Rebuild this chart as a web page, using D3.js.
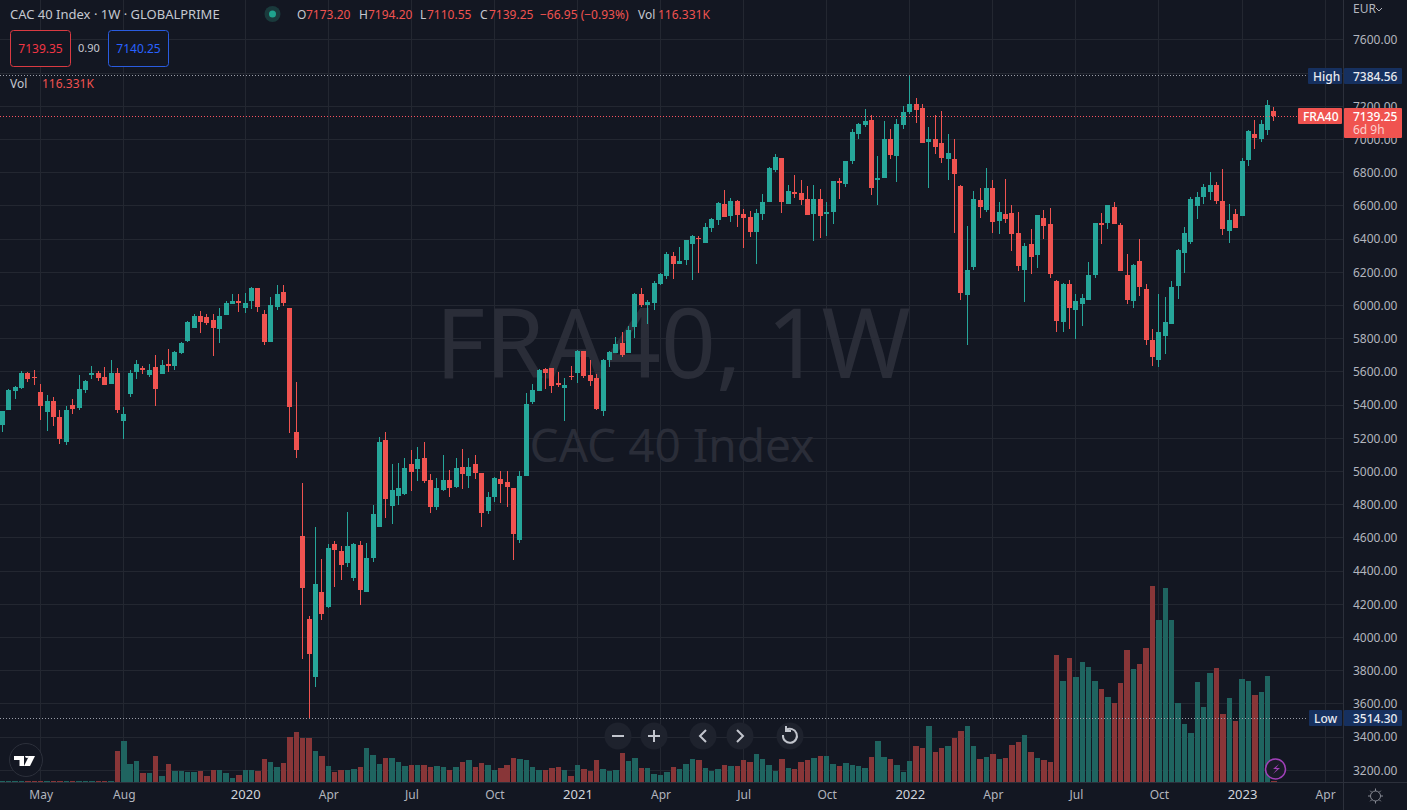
<!DOCTYPE html>
<html><head><meta charset="utf-8">
<script src="https://cdn.jsdelivr.net/npm/d3@7"></script>
<style>
html,body{margin:0;padding:0;background:#131722;overflow:hidden}
svg{display:block}
text{font-family:"Noto Sans",sans-serif}
</style></head><body><svg id="c" width="1407" height="810"></svg>
<script>
const opens=[5278,5368,5482,5506,5596,5572,5476,5356,5422,5326,5176,5398,5380,5488,5584,5596,5572,5530,5596,5302,5464,5602,5626,5584,5632,5590,5650,5638,5716,5788,5866,5938,5932,5914,5860,5944,6010,6028,5986,6028,6106,5950,5782,5992,6082,5986,5236,
4611,4113,3765,4275,4185,4563,4521,4449,4359,4557,4275,4479,4665,5187,4791,4851,4863,5043,5013,5079,4947,4785,4887,4947,4905,5025,4971,5043,4989,4761,4845,4953,4935,4899,4587,4971,5421,5487,5619,
5623,5533,5503,5575,5593,5725,5581,5563,5365,5671,5713,5773,5713,5869,6067,6001,6013,6127,6175,6301,6253,6277,6373,6409,6379,6469,6517,6613,6541,6631,6553,6535,6445,6553,6625,6817,6889,6613,6685,6679,6643,6553,6643,
6549,6561,6753,6729,6873,7035,7089,7119,6759,6771,7005,6903,7089,7167,7215,7191,6987,7005,6981,6885,6885,6717,6063,6231,6633,6573,6705,6507,6549,6555,6435,6213,6369,6303,
6530,6488,6146,5900,6128,5972,6008,6032,6182,6494,6494,6596,6482,6182,6026,6266,6098,5792,5672,5816,5888,6116,6314,6380,6602,6656,6686,6728,6632,6446,6554,6542,6878,7034,7004,7058,7173.20];
const highs=[5362,5494,5518,5608,5602,5614,5530,5458,5446,5368,5392,5434,5584,5554,5638,5608,5632,5674,5626,5386,5614,5674,5638,5650,5704,5674,5740,5728,5782,5908,5950,5968,5950,5950,5986,6028,6070,6070,6076,6112,6106,5974,6052,6124,6124,5986,5542,
4929,4131,4665,4473,4563,4581,4551,4755,4569,4581,4569,4797,5205,5235,5043,5049,5079,5127,5145,5175,4983,4959,5097,5007,5079,5133,5079,5097,4989,4875,4965,5001,5001,4899,5001,5475,5529,5619,5625,
5623,5599,5563,5635,5731,5725,5671,5587,5677,5725,5809,5839,5875,6073,6103,6031,6145,6193,6325,6325,6355,6397,6427,6421,6499,6529,6625,6697,6649,6637,6583,6571,6583,6673,6835,6913,6889,6727,6787,6757,6721,6727,6703,
6621,6753,6771,6873,7065,7101,7185,7149,6903,7113,7065,7125,7203,7384.56,7251,7215,7077,7149,7173,7035,7005,6723,6477,6687,6705,6831,6759,6621,6765,6603,6561,6375,6459,6543,
6578,6590,6152,6134,6152,6068,6068,6260,6494,6560,6608,6626,6500,6308,6248,6398,6128,5858,6068,6050,6146,6338,6470,6656,6686,6734,6806,6746,6824,6614,6584,6890,7058,7118,7118,7238,7194.20];
const lows=[5236,5368,5434,5500,5542,5524,5308,5242,5272,5164,5158,5344,5368,5470,5560,5548,5524,5530,5350,5194,5446,5560,5590,5572,5392,5590,5602,5614,5710,5782,5866,5836,5884,5698,5776,5944,6010,5962,5956,5980,5962,5764,5782,5974,5998,5230,5080,
3873,3514.30,3699,4107,4179,4305,4347,4425,4341,4197,4275,4455,4665,4719,4683,4797,4857,4881,4941,4929,4749,4767,4881,4845,4899,4893,4899,4953,4665,4743,4815,4809,4785,4467,4569,4971,5409,5487,5499,
5473,5509,5305,5551,5533,5563,5515,5371,5335,5629,5713,5689,5713,5803,5989,5887,5971,6121,6157,6157,6247,6241,6151,6193,6379,6445,6487,6535,6505,6475,6349,6415,6247,6517,6625,6805,6559,6613,6649,6607,6547,6391,6409,
6417,6489,6639,6711,6855,7005,7077,6663,6603,6771,6885,6741,7065,7155,7101,6981,6705,6915,6861,6759,6435,6033,5763,6213,6525,6561,6435,6429,6495,6327,6207,6021,6189,6225,
6398,6164,5840,5840,5858,5798,5876,6032,6164,6368,6458,6488,6206,6008,5984,6056,5762,5636,5630,5708,5888,6038,6194,6368,6524,6614,6638,6614,6422,6374,6464,6542,6842,6944,6986,7028,7110.55];
const closes=[5362,5488,5512,5596,5560,5566,5392,5422,5326,5194,5368,5374,5494,5548,5596,5566,5524,5596,5368,5344,5596,5650,5614,5614,5500,5644,5638,5722,5776,5902,5938,5902,5896,5866,5938,6016,6028,6016,6016,6106,5992,5782,6004,6070,6016,5386,5128,
4299,3903,4323,4143,4539,4527,4437,4551,4563,4287,4479,4743,5175,4833,4887,4899,5019,4995,5073,4941,4785,4899,4947,4899,5019,4983,5025,4989,4749,4845,4959,4923,4905,4623,4971,5409,5493,5613,5595,
5515,5521,5521,5569,5725,5575,5545,5377,5671,5719,5767,5701,5851,6067,6001,6019,6133,6187,6313,6247,6271,6397,6421,6403,6475,6523,6619,6535,6631,6547,6529,6445,6559,6625,6829,6895,6625,6691,6673,6637,6547,6643,6541,
6561,6747,6735,6873,7047,7095,7113,6705,6771,7005,6909,7095,7167,7215,7179,6981,7005,6957,6891,6921,6795,6075,6213,6639,6591,6705,6501,6561,6519,6429,6237,6357,6291,6543,
6476,6188,5906,6128,5984,6026,6044,6182,6494,6482,6608,6488,6206,6032,6242,6110,5792,5690,5840,5900,6110,6332,6434,6644,6656,6716,6728,6632,6458,6518,6464,6872,7052,7010,7094,7208,7139.25];
// weekly volume, thousands
const volumes=[120,120,120,120,120,120,120,120,120,120,120,120,120,120,120,120,120,120,
3100,4100,1800,2100,900,900,2600,600,1800,1100,1100,1000,1000,1100,600,1200,1200,900,400,700,1200,1200,1100,2300,2000,1500,1900,4500,5000,4400,4400,3100,2600,1600,1000,1200,1200,1300,1500,3400,2700,1800,2400,2400,2000,1600,1700,1700,1700,1500,1600,1500,1200,1500,2000,2200,1500,1900,1700,1200,1400,1700,2400,2300,2200,1500,1200,1200,1400,1500,1200,600,1700,1300,1100,2200,1300,1100,1200,2900,2100,2400,1400,1400,800,700,1000,1500,1300,1800,2300,2200,1400,1100,1300,1700,1600,1600,2200,2000,2800,2300,1700,1100,2300,1400,1300,2000,2200,2400,2600,2600,1800,1600,1900,1700,1600,1400,2500,4100,2500,2300,1700,1000,2100,3600,3400,5600,3000,3400,3600,4400,5100,5600,3600,2300,2500,2800,2300,2400,3700,4000,4700,3000,2400,2200,2000,
12700,10100,12400,10500,12000,11500,10100,9300,8500,7900,9900,13200,11300,11800,13400,19600,16200,19400,16200,7900,5800,4900,10000,7500,10900,11400,6800,8400,6100,10300,10100,8700,9000,10600,116.331];
const priceTicks=[7600,7200,7000,6800,6600,6400,6200,6000,5800,5600,5400,5200,5000,4800,4600,4400,4200,4000,3800,3600,3400,3200];
const gridPrices=[7600,7400,7200,7000,6800,6600,6400,6200,6000,5800,5600,5400,5200,5000,4800,4600,4400,4200,4000,3800,3600,3400,3200];
const timeTickBars=[6,19,38,51,64,77,90,103,116,129,142,155,168,181,194,207];
const timeTickLabels=["May","Aug","2020","Apr","Jul","Oct","2021","Apr","Jul","Oct","2022","Apr","Jul","Oct","2023","Apr"];
const title="CAC 40 Index · 1W · GLOBALPRIME";
const bid="7139.35", spread="0.90", ask="7140.25";
const seriesHigh=7384.56, seriesLow=3514.30, lastClose=7139.25;

const UP="#26a69a",DOWN="#f05350",GRID="#232731",BORDER="#2c303b",TXT="#b2b5be",NAVY="#16305f";
const svg=d3.select("#c");
const x=d3.scaleLinear().domain([0,207]).range([2.4,1325.1]);
const y=d3.scaleLinear().domain([3200,7600]).range([770.3,39.9]);
const vy=d3.scaleLinear().domain([0,19600]).range([782,586]);
const isUp=i=>closes[i]>=opens[i];
const snap=v=>Math.round(v-.5)+.5;

// grid
const grid=svg.append("g").attr("shape-rendering","crispEdges").attr("stroke",GRID);
gridPrices.forEach(p=>grid.append("line").attr("x1",0).attr("x2",1343).attr("y1",snap(y(p))).attr("y2",snap(y(p))));
timeTickBars.forEach(b=>grid.append("line").attr("x1",snap(x(b))).attr("x2",snap(x(b))).attr("y1",0).attr("y2",782));

// watermark
svg.append("text").attr("x",673).attr("y",378).attr("text-anchor","middle").attr("font-size",96).attr("fill","#2a2d38").text("FRA40, 1W");
svg.append("text").attr("x",672).attr("y",462).attr("text-anchor","middle").attr("font-size",46).attr("fill","#2a2d38").text("CAC 40 Index");

// volume
svg.append("g").attr("shape-rendering","crispEdges").selectAll("rect").data(volumes).join("rect")
 .attr("x",(d,i)=>Math.round(x(i)-2.7)).attr("width",(d,i)=>Math.round(x(i)+2.7)-Math.round(x(i)-2.7))
 .attr("y",d=>vy(d)).attr("height",d=>Math.max(1,782-vy(d)))
 .attr("fill",(d,i)=>isUp(i)?"#1f6460":"#883638");

// candles
const idx=d3.range(opens.length);
const cg=svg.append("g").attr("shape-rendering","crispEdges");
cg.selectAll("line").data(idx).join("line")
 .attr("x1",i=>snap(x(i))).attr("x2",i=>snap(x(i))).attr("y1",i=>y(highs[i])).attr("y2",i=>y(lows[i]))
 .attr("stroke",i=>isUp(i)?UP:DOWN);
cg.selectAll("rect").data(idx).join("rect")
 .attr("x",i=>snap(x(i))-2.5).attr("width",5)
 .attr("y",i=>y(Math.max(opens[i],closes[i])))
 .attr("height",i=>Math.max(1,Math.abs(y(opens[i])-y(closes[i]))))
 .attr("fill",i=>isUp(i)?UP:DOWN);

// dotted marker lines
const dotted=(v,x2,c)=>svg.append("line").attr("x1",0).attr("x2",x2).attr("y1",snap(y(v))).attr("y2",snap(y(v))).attr("stroke",c).attr("stroke-dasharray","1,2").attr("shape-rendering","crispEdges");
dotted(seriesHigh,1308,"#9a9da8");
dotted(seriesLow,1308,"#9a9da8");
dotted(lastClose,1298,"#f7525f");

// axes
const yAxis=svg.append("g").attr("transform","translate(1343,0)").call(d3.axisRight(y).tickValues(priceTicks).tickFormat(d3.format(".2f")).tickSize(0).tickPadding(10));
const xAxis=svg.append("g").attr("transform","translate(0,782)").call(d3.axisBottom(x).tickValues(timeTickBars).tickFormat((d,i)=>timeTickLabels[i]).tickSize(0).tickPadding(8));
[yAxis,xAxis].forEach(a=>{a.select(".domain").remove();a.selectAll("text").attr("fill",TXT).attr("font-size",12).style("font-family",'"Noto Sans",sans-serif');});
xAxis.selectAll("text").attr("font-size",(d,i)=>/^20/.test(timeTickLabels[i])?13:12).attr("fill",(d,i)=>/^20/.test(timeTickLabels[i])?"#d1d4dc":TXT);
svg.append("g").attr("shape-rendering","crispEdges").attr("stroke",BORDER).call(g=>{
 g.append("line").attr("x1",1343.5).attr("x2",1343.5).attr("y1",0).attr("y2",810);
 g.append("line").attr("x1",0).attr("x2",1407).attr("y1",782.5).attr("y2",782.5);
});
svg.append("text").attr("x",1353).attr("y",13).attr("font-size",12).attr("fill",TXT).text("EUR");
svg.append("path").attr("d","M1376 8l3 3 3-3").attr("fill","none").attr("stroke",TXT);

// price tags
function tag(x0,w,yc,h,fill,txt,color,anchorX,weight){
 svg.append("rect").attr("x",x0).attr("y",yc-h/2).attr("width",w).attr("height",h).attr("rx",1).attr("fill",fill);
 svg.append("text").attr("x",anchorX).attr("y",yc+4.5).attr("font-size",12).attr("font-weight",weight||500).attr("fill",color).text(txt);
}
tag(1308,34,76,16,NAVY,"High","#e8eaf0",1313);
tag(1344,58,76,16,NAVY,d3.format(".2f")(seriesHigh),"#e8eaf0",1353);
tag(1309,33,718,16,NAVY,"Low","#e8eaf0",1314);
tag(1344,58,718,16,NAVY,d3.format(".2f")(seriesLow),"#e8eaf0",1353);
tag(1298,44,116,16,"#f05350","FRA40","#fff",1303);
svg.append("rect").attr("x",1344).attr("y",108).attr("width",58).attr("height",30).attr("rx",1).attr("fill","#f05350");
svg.append("text").attr("x",1353).attr("y",120.5).attr("font-size",12).attr("font-weight",500).attr("fill","#fff").text(d3.format(".2f")(lastClose));
svg.append("text").attr("x",1353).attr("y",134).attr("font-size",12).attr("fill","#fbd0cf").text("6d 9h");

// legend
const L=(xp,yp,t,c,fs)=>svg.append("text").attr("x",xp).attr("y",yp).attr("font-size",fs||12).attr("fill",c).text(t);
L(10,19,title,"#c5c8d0",13);
svg.append("circle").attr("cx",272.5).attr("cy",14).attr("r",8).attr("fill","#1a3a3c");
svg.append("circle").attr("cx",272.5).attr("cy",14).attr("r",3.5).attr("fill","#1fa38e");
const R="#f05350",W="#c5c8d0";
L(297,19,"O",W);L(306,19,d3.format(".2f")(opens[199]),R);
L(359,19,"H",W);L(368,19,d3.format(".2f")(highs[199]),R);
L(420,19,"L",W);L(427,19,d3.format(".2f")(lows[199]),R);
L(480,19,"C",W);L(489,19,d3.format(".2f")(closes[199]),R);
L(540,19,"−66.95 (−0.93%)",R);
L(638,19,"Vol",W);L(658,19,"116.331K",R);
svg.append("rect").attr("x",10.5).attr("y",30.5).attr("width",60).attr("height",36).attr("rx",3).attr("fill","#131722").attr("stroke","#d93a42");
svg.append("rect").attr("x",108.5).attr("y",30.5).attr("width",60).attr("height",36).attr("rx",3).attr("fill","#131722").attr("stroke","#2a5ce0");
svg.append("text").attr("x",40.5).attr("y",53).attr("text-anchor","middle").attr("font-size",12).attr("fill","#f23645").text(bid);
svg.append("text").attr("x",89).attr("y",52).attr("text-anchor","middle").attr("font-size",11).attr("fill",W).text(spread);
svg.append("text").attr("x",138.5).attr("y",53).attr("text-anchor","middle").attr("font-size",12).attr("fill","#2962ff").text(ask);
L(10,88,"Vol",W);L(42,88,"116.331K",R);

// nav buttons
const nav=svg.append("g");
[618,654,703,740,790].forEach(c=>nav.append("circle").attr("cx",c).attr("cy",736).attr("r",13.5).attr("fill","#1e222d"));
const icon=d=>nav.append("path").attr("d",d).attr("fill","none").attr("stroke","#c2c5cd").attr("stroke-width",2);
icon("M612 736h12");icon("M648 736h12M654 730v12");icon("M706 730l-6 6 6 6");icon("M737 730l6 6-6 6");
icon("M786 730a7 7 0 1 1-3 5M786 726v5h5");

// TV logo
svg.append("circle").attr("cx",26).attr("cy",760).attr("r",16.5).attr("fill","#131722").attr("stroke","#2c303b");
svg.append("path").attr("fill","#fff").attr("d","M14 756h10v10h-4.5v-6H14zM29 756h6l-5 10h-6zM25 756a2 2 0 1 0 4 0z");

// lightning
svg.append("circle").attr("cx",1275.5).attr("cy",769).attr("r",10).attr("fill","#1a1b28").attr("stroke","#a040b8").attr("stroke-width",1.5);
svg.append("path").attr("d","M1279 764l-6 5h4l-4 5 7-6h-4z").attr("fill","#a040b8");

// sun
const sun=svg.append("g").attr("stroke","#868993").attr("fill","none");
sun.append("circle").attr("cx",1375.5).attr("cy",796).attr("r",5);
d3.range(8).forEach(k=>{const a=k*Math.PI/4;sun.append("line").attr("x1",1375.5+5*Math.cos(a)).attr("y1",796+5*Math.sin(a)).attr("x2",1375.5+7.5*Math.cos(a)).attr("y2",796+7.5*Math.sin(a));});
</script></body></html>
